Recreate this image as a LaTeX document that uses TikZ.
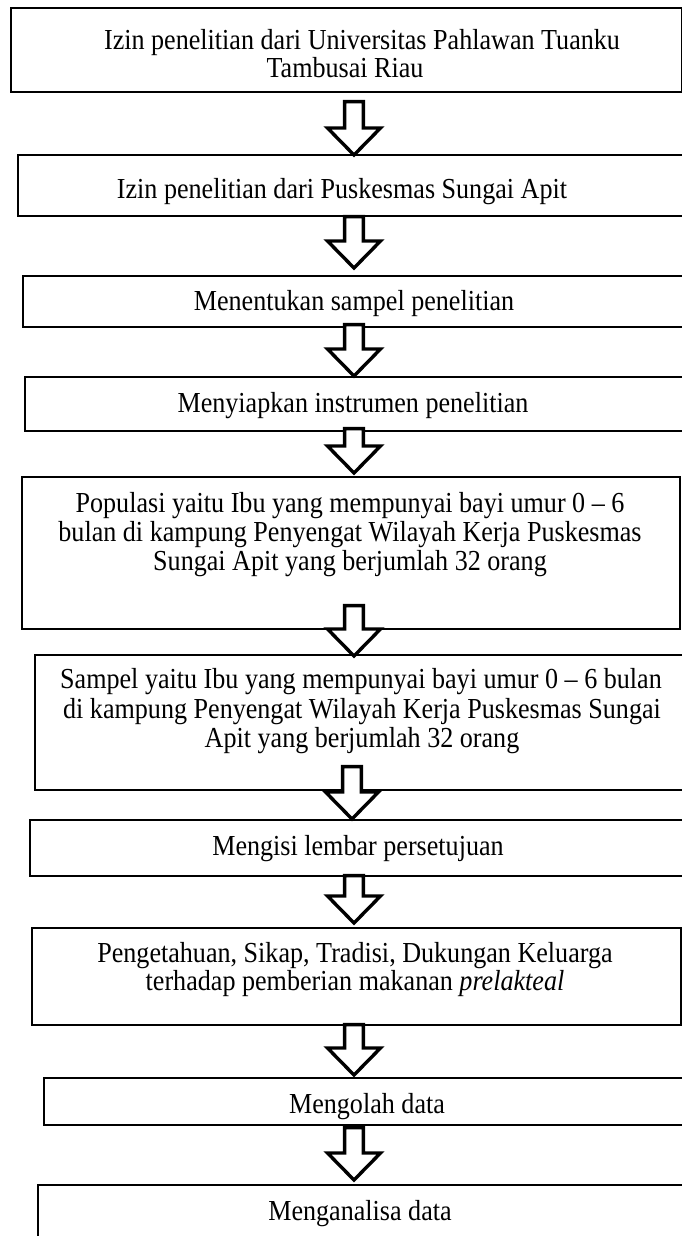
\documentclass[tikz,border=0pt]{standalone}
\usepackage{fontspec}
\setmainfont{Liberation Serif}[FakeStretch=0.9]
\usetikzlibrary{calc}
\tikzset{
  box/.style={draw=black, line width=1.8pt, rectangle, inner sep=0pt, anchor=north west},
  txt/.style={anchor=base, inner sep=0pt, font=\fontsize{29}{32}\selectfont},
  blockarr/.style={draw=black, line width=3.4pt, fill=white, line join=miter, miter limit=10,
    to path={($(\tikztostart)+(-9.4,0)$) -- ($(\tikztotarget)+(-9.4,-27)$) -- ($(\tikztotarget)+(-26.5,-27)$) -- (\tikztotarget) -- ($(\tikztotarget)+(26.5,-27)$) -- ($(\tikztotarget)+(9.4,-27)$) -- ($(\tikztostart)+(9.4,0)$) -- cycle}}
}
\newcommand{\mkbox}[5]{\node[box, minimum width={#4-#2}, minimum height={#5-#3}] (#1) at (#2,#3) {};}
\begin{document}
\begin{tikzpicture}[x=1pt,y=-1pt]
\useasboundingbox (0,0) rectangle (682,1236);
\clip (0,0) rectangle (682,1236);
\fill[white] (0,0) rectangle (682,1236);
% boxes
\mkbox{b1}{10}{7}{681}{91}
\mkbox{b2}{17}{154}{700}{215}
\mkbox{b3}{22}{275}{700}{326}
\mkbox{b4}{24}{376}{700}{430}
\mkbox{b5}{21}{476}{679}{628}
\mkbox{b6}{34}{654}{700}{789}
\mkbox{b7}{29}{819}{700}{875}
\mkbox{b8}{31}{927}{680}{1024}
\mkbox{b9}{43}{1077}{700}{1124}
\mkbox{b10}{37}{1184}{700}{1250}
% texts
\node[txt] (t1a) at (362,50) {Izin penelitian dari Universitas Pahlawan Tuanku};
\node[txt] (t1b) at (345,78) {Tambusai Riau};
\node[txt] (t2) at (342,198) {Izin penelitian dari Puskesmas Sungai Apit};
\node[txt] (t3) at (354,310) {Menentukan sampel penelitian};
\node[txt] (t4) at (353,412) {Menyiapkan instrumen penelitian};
\node[txt] (t5a) at (350,512) {Populasi yaitu Ibu yang mempunyai bayi umur 0 – 6};
\node[txt] (t5b) at (350,541) {bulan di kampung Penyengat Wilayah Kerja Puskesmas};
\node[txt] (t5c) at (350,570) {Sungai Apit yang berjumlah 32 orang};
\node[txt] (t6a) at (361,688) {Sampel yaitu Ibu yang mempunyai bayi umur 0 – 6 bulan};
\node[txt] (t6b) at (362,718) {di kampung Penyengat Wilayah Kerja Puskesmas Sungai};
\node[txt] (t6c) at (362,747) {Apit yang berjumlah 32 orang};
\node[txt] (t7) at (358,855) {Mengisi lembar persetujuan};
\node[txt] (t8a) at (355,962) {Pengetahuan, Sikap, Tradisi, Dukungan Keluarga};
\node[txt] (t8b) at (355,990) {terhadap pemberian makanan \textit{prelakteal}};
\node[txt] (t9) at (367,1113) {Mengolah data};
\node[txt] (t10) at (360,1220) {Menganalisa data};
% arrow end points
\coordinate (a1s) at (354,101.6); \coordinate (a1e) at (354,155);
\coordinate (a2s) at (354,216.6); \coordinate (a2e) at (354,268);
\coordinate (a3s) at (354,324.6); \coordinate (a3e) at (354,376);
\coordinate (a4s) at (354,428.6); \coordinate (a4e) at (354,473);
\coordinate (a5s) at (354,605.6); \coordinate (a5e) at (354,656);
\coordinate (a6s) at (352,766.6); \coordinate (a6e) at (352,819);
\coordinate (a7s) at (354,875.6); \coordinate (a7e) at (354,923);
\coordinate (a8s) at (354,1024.6); \coordinate (a8e) at (354,1075);
\coordinate (a9s) at (354,1127.6); \coordinate (a9e) at (354,1180);
\foreach \i in {1,...,9} {\draw[blockarr] (a\i s) to (a\i e);}
\end{tikzpicture}
\end{document}
